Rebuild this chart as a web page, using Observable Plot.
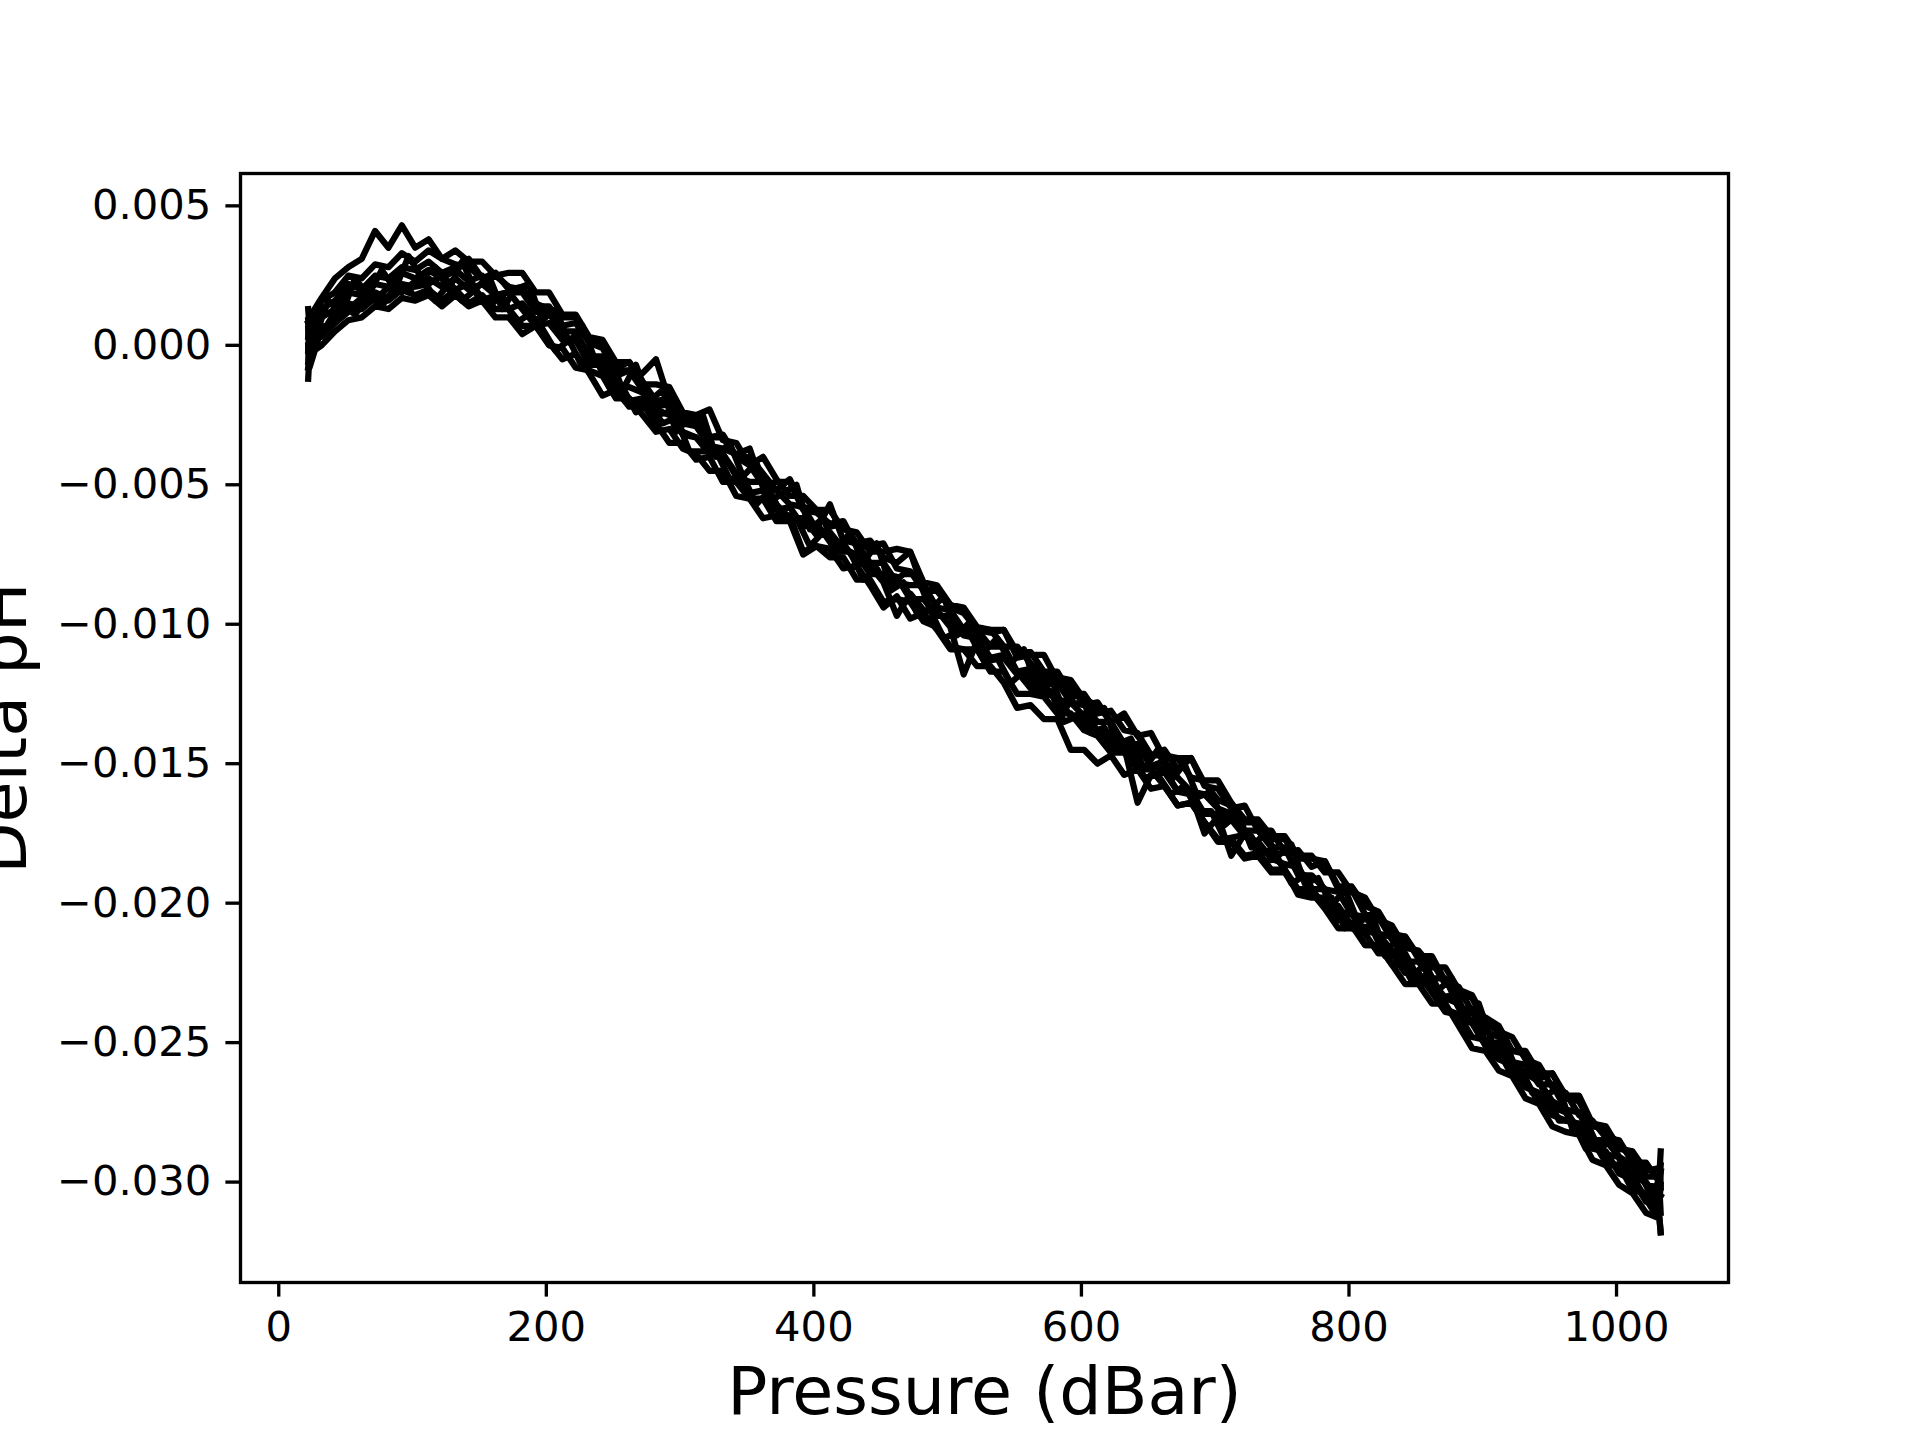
<!DOCTYPE html>
<html>
<head>
<meta charset="utf-8">
<script src="https://cdn.jsdelivr.net/npm/d3@7"></script>
<script src="https://cdn.jsdelivr.net/npm/@observablehq/plot@0.6"></script>
<style>
  html, body { margin: 0; padding: 0; background: white; overflow: hidden; }
</style>
</head>
<body>
<div id="chart"></div>
<script>
// Pressure grids (dBar)
const pressure = [22, 23, 32, 42, 52, 62, 72, 82, 92, 102, 112, 122, 132, 142, 152, 162, 172, 182, 192, 202, 212, 222, 232, 242, 252, 262, 272, 282, 292, 302, 312, 322, 332, 342, 352, 362, 372, 382, 392, 402, 412, 422, 432, 442, 452, 462, 472, 482, 492, 502, 512, 522, 532, 542, 552, 562, 572, 582, 592, 602, 612, 622, 632, 642, 652, 662, 672, 682, 692, 702, 712, 722, 732, 742, 752, 762, 772, 782, 792, 802, 812, 822, 832, 842, 852, 862, 872, 882, 892, 902, 912, 922, 932, 942, 952, 962, 972, 982, 992, 1002, 1012, 1022, 1032, 1033];
const pressureB = [22, 27, 37, 47, 57, 67, 77, 87, 97, 107, 117, 127, 137, 147, 157, 167, 177, 187, 197, 207, 217, 227, 237, 247, 257, 267, 277, 287, 297, 307, 317, 327, 337, 347, 357, 367, 377, 387, 397, 407, 417, 427, 437, 447, 457, 467, 477, 487, 497, 507, 517, 527, 537, 547, 557, 567, 577, 587, 597, 607, 617, 627, 637, 647, 657, 667, 677, 687, 697, 707, 717, 727, 737, 747, 757, 767, 777, 787, 797, 807, 817, 827, 837, 847, 857, 867, 877, 887, 897, 907, 917, 927, 937, 947, 957, 967, 977, 987, 997, 1007, 1017, 1027, 1033];

// Delta pH profiles (one per cast)
const profile1 = [0.0003, 0.0010, 0.0017, 0.0024, 0.0028, 0.0031, 0.0041, 0.0035, 0.0043, 0.0035,
0.0038, 0.0031, 0.0029, 0.0028, 0.0024, 0.0025, 0.0021, 0.0020, 0.0015, 0.0013,
0.0010, 0.0010, 0.0001, 0.0000, -0.0008, -0.0006, -0.0013, -0.0020, -0.0019, -0.0025,
-0.0026, -0.0033, -0.0032, -0.0040, -0.0043, -0.0050, -0.0049, -0.0049, -0.0059, -0.0060,
-0.0064, -0.0063, -0.0072, -0.0072, -0.0071, -0.0080, -0.0081, -0.0088, -0.0087, -0.0093,
-0.0095, -0.0102, -0.0103, -0.0102, -0.0112, -0.0111, -0.0111, -0.0120, -0.0122, -0.0129,
-0.0128, -0.0135, -0.0133, -0.0140, -0.0139, -0.0148, -0.0148, -0.0148, -0.0158, -0.0159,
-0.0166, -0.0165, -0.0174, -0.0174, -0.0182, -0.0181, -0.0187, -0.0185, -0.0195, -0.0195,
-0.0204, -0.0205, -0.0213, -0.0212, -0.0219, -0.0219, -0.0228, -0.0230, -0.0239, -0.0241,
-0.0244, -0.0253, -0.0254, -0.0263, -0.0261, -0.0270, -0.0271, -0.0280, -0.0281, -0.0287,
-0.0291, -0.0298, -0.0298, -0.0289];

const profile2 = [-0.0012, -0.0003, 0.0000, 0.0005, 0.0009, 0.0010, 0.0014, 0.0013, 0.0017, 0.0016,
0.0018, 0.0014, 0.0018, 0.0014, 0.0016, 0.0010, 0.0010, 0.0004, 0.0007, 0.0001,
-0.0005, -0.0003, -0.0010, -0.0018, -0.0016, -0.0022, -0.0021, -0.0028, -0.0035, -0.0035,
-0.0041, -0.0040, -0.0049, -0.0049, -0.0055, -0.0062, -0.0061, -0.0061, -0.0074, -0.0072,
-0.0073, -0.0080, -0.0079, -0.0086, -0.0094, -0.0090, -0.0098, -0.0096, -0.0102, -0.0109,
-0.0109, -0.0115, -0.0115, -0.0121, -0.0130, -0.0129, -0.0134, -0.0134, -0.0145, -0.0145,
-0.0150, -0.0147, -0.0154, -0.0152, -0.0159, -0.0158, -0.0165, -0.0164, -0.0171, -0.0177,
-0.0177, -0.0183, -0.0182, -0.0188, -0.0188, -0.0197, -0.0198, -0.0198, -0.0206, -0.0207,
-0.0215, -0.0215, -0.0222, -0.0222, -0.0229, -0.0229, -0.0238, -0.0240, -0.0242, -0.0251,
-0.0253, -0.0262, -0.0263, -0.0272, -0.0273, -0.0275, -0.0283, -0.0285, -0.0293, -0.0294,
-0.0303, -0.0304, -0.0312, -0.0318];

const profile3 = [0.0013, 0.0006, 0.0016, 0.0019, 0.0025, 0.0024, 0.0029, 0.0028, 0.0033, 0.0030,
0.0034, 0.0031, 0.0034, 0.0030, 0.0030, 0.0025, 0.0026, 0.0026, 0.0019, 0.0019,
0.0011, 0.0011, 0.0003, 0.0002, -0.0006, -0.0006, -0.0014, -0.0014, -0.0015, -0.0024,
-0.0025, -0.0023, -0.0034, -0.0035, -0.0043, -0.0040, -0.0048, -0.0054, -0.0054, -0.0059,
-0.0059, -0.0066, -0.0067, -0.0074, -0.0074, -0.0073, -0.0074, -0.0085, -0.0086, -0.0093,
-0.0094, -0.0101, -0.0102, -0.0102, -0.0110, -0.0110, -0.0117, -0.0117, -0.0125, -0.0125,
-0.0132, -0.0131, -0.0138, -0.0139, -0.0147, -0.0147, -0.0148, -0.0155, -0.0156, -0.0156,
-0.0164, -0.0170, -0.0170, -0.0176, -0.0176, -0.0183, -0.0183, -0.0189, -0.0189, -0.0196,
-0.0198, -0.0206, -0.0208, -0.0216, -0.0217, -0.0223, -0.0223, -0.0231, -0.0234, -0.0243,
-0.0246, -0.0248, -0.0256, -0.0258, -0.0266, -0.0268, -0.0276, -0.0278, -0.0284, -0.0285,
-0.0293, -0.0293, -0.0300, -0.0294];

const profile4 = [-0.0002, 0.0005, 0.0004, 0.0012, 0.0013, 0.0017, 0.0016, 0.0021, 0.0019, 0.0023,
0.0024, 0.0021, 0.0024, 0.0020, 0.0022, 0.0018, 0.0013, 0.0015, 0.0009, 0.0012,
0.0003, 0.0002, -0.0006, -0.0007, -0.0015, -0.0015, -0.0017, -0.0023, -0.0025, -0.0032,
-0.0033, -0.0038, -0.0039, -0.0047, -0.0049, -0.0049, -0.0057, -0.0062, -0.0062, -0.0068,
-0.0067, -0.0073, -0.0075, -0.0082, -0.0082, -0.0083, -0.0091, -0.0091, -0.0097, -0.0097,
-0.0104, -0.0105, -0.0112, -0.0111, -0.0117, -0.0123, -0.0122, -0.0127, -0.0128, -0.0133,
-0.0139, -0.0139, -0.0145, -0.0151, -0.0151, -0.0152, -0.0160, -0.0160, -0.0168, -0.0168,
-0.0170, -0.0176, -0.0178, -0.0184, -0.0186, -0.0187, -0.0195, -0.0195, -0.0203, -0.0204,
-0.0210, -0.0211, -0.0217, -0.0218, -0.0227, -0.0228, -0.0234, -0.0236, -0.0243, -0.0251,
-0.0251, -0.0259, -0.0261, -0.0264, -0.0271, -0.0274, -0.0282, -0.0284, -0.0290, -0.0291,
-0.0298, -0.0300, -0.0307, -0.0297];

const profile5 = [0.0006, -0.0004, 0.0010, 0.0013, 0.0019, 0.0018, 0.0022, 0.0021, 0.0026, 0.0024,
0.0027, 0.0024, 0.0027, 0.0023, 0.0025, 0.0018, 0.0019, 0.0019, 0.0012, 0.0012,
0.0005, 0.0005, -0.0004, -0.0004, -0.0011, -0.0009, -0.0016, -0.0022, -0.0021, -0.0028,
-0.0029, -0.0036, -0.0037, -0.0039, -0.0037, -0.0051, -0.0052, -0.0057, -0.0058, -0.0066,
-0.0057, -0.0070, -0.0071, -0.0078, -0.0078, -0.0085, -0.0086, -0.0086, -0.0094, -0.0095,
-0.0102, -0.0102, -0.0108, -0.0108, -0.0117, -0.0116, -0.0122, -0.0121, -0.0128, -0.0129,
-0.0135, -0.0135, -0.0143, -0.0143, -0.0151, -0.0149, -0.0155, -0.0160, -0.0161, -0.0166,
-0.0168, -0.0174, -0.0174, -0.0180, -0.0180, -0.0190, -0.0190, -0.0195, -0.0196, -0.0204,
-0.0205, -0.0211, -0.0212, -0.0221, -0.0221, -0.0227, -0.0227, -0.0237, -0.0239, -0.0246,
-0.0248, -0.0257, -0.0258, -0.0265, -0.0265, -0.0274, -0.0275, -0.0285, -0.0285, -0.0291,
-0.0294, -0.0301, -0.0302, -0.0311];

const profile6 = [-0.0006, 0.0004, 0.0003, 0.0008, 0.0012, 0.0013, 0.0017, 0.0016, 0.0020, 0.0018,
0.0020, 0.0016, 0.0020, 0.0015, 0.0018, 0.0013, 0.0013, 0.0007, 0.0007, 0.0000,
-0.0001, -0.0008, -0.0009, -0.0011, -0.0019, -0.0019, -0.0025, -0.0031, -0.0030, -0.0037,
-0.0039, -0.0045, -0.0045, -0.0054, -0.0055, -0.0055, -0.0063, -0.0063, -0.0075, -0.0072,
-0.0076, -0.0076, -0.0084, -0.0084, -0.0092, -0.0091, -0.0092, -0.0099, -0.0101, -0.0108,
-0.0109, -0.0109, -0.0117, -0.0117, -0.0125, -0.0125, -0.0126, -0.0132, -0.0132, -0.0138,
-0.0140, -0.0146, -0.0146, -0.0152, -0.0152, -0.0158, -0.0165, -0.0164, -0.0171, -0.0178,
-0.0178, -0.0184, -0.0183, -0.0189, -0.0189, -0.0196, -0.0196, -0.0202, -0.0209, -0.0209,
-0.0211, -0.0218, -0.0218, -0.0225, -0.0225, -0.0232, -0.0239, -0.0240, -0.0248, -0.0249,
-0.0256, -0.0258, -0.0266, -0.0268, -0.0276, -0.0278, -0.0279, -0.0288, -0.0289, -0.0297,
-0.0299, -0.0307, -0.0308, -0.0301];

const profile7 = [0.0009, 0.0001, 0.0013, 0.0016, 0.0022, 0.0020, 0.0025, 0.0024, 0.0028, 0.0027,
0.0030, 0.0026, 0.0028, 0.0031, 0.0024, 0.0026, 0.0020, 0.0021, 0.0014, 0.0014,
0.0007, 0.0008, 0.0001, -0.0001, -0.0009, -0.0009, -0.0010, -0.0005, -0.0020, -0.0026,
-0.0027, -0.0033, -0.0033, -0.0040, -0.0040, -0.0046, -0.0052, -0.0048, -0.0058, -0.0059,
-0.0065, -0.0064, -0.0071, -0.0070, -0.0076, -0.0078, -0.0074, -0.0088, -0.0088, -0.0094,
-0.0096, -0.0102, -0.0102, -0.0108, -0.0108, -0.0114, -0.0119, -0.0119, -0.0120, -0.0127,
-0.0129, -0.0135, -0.0132, -0.0140, -0.0147, -0.0145, -0.0152, -0.0148, -0.0157, -0.0163,
-0.0165, -0.0171, -0.0171, -0.0177, -0.0177, -0.0184, -0.0184, -0.0185, -0.0194, -0.0194,
-0.0201, -0.0203, -0.0211, -0.0212, -0.0220, -0.0221, -0.0229, -0.0231, -0.0233, -0.0242,
-0.0245, -0.0253, -0.0253, -0.0261, -0.0261, -0.0269, -0.0269, -0.0279, -0.0280, -0.0288,
-0.0289, -0.0296, -0.0295, -0.0302];

const profile8 = [0.0000, -0.0008, 0.0006, 0.0009, 0.0015, 0.0014, 0.0019, 0.0017, 0.0022, 0.0021,
0.0022, 0.0025, 0.0020, 0.0022, 0.0016, 0.0018, 0.0019, 0.0013, 0.0007, 0.0008,
0.0002, 0.0002, -0.0007, -0.0007, -0.0014, -0.0020, -0.0019, -0.0025, -0.0024, -0.0031,
-0.0033, -0.0039, -0.0039, -0.0046, -0.0053, -0.0052, -0.0059, -0.0058, -0.0065, -0.0064,
-0.0070, -0.0071, -0.0078, -0.0079, -0.0085, -0.0097, -0.0089, -0.0095, -0.0095, -0.0101,
-0.0118, -0.0106, -0.0113, -0.0112, -0.0118, -0.0118, -0.0125, -0.0126, -0.0133, -0.0132,
-0.0138, -0.0144, -0.0144, -0.0164, -0.0154, -0.0153, -0.0160, -0.0161, -0.0175, -0.0169,
-0.0183, -0.0175, -0.0182, -0.0181, -0.0188, -0.0195, -0.0195, -0.0201, -0.0201, -0.0208,
-0.0215, -0.0215, -0.0222, -0.0229, -0.0229, -0.0236, -0.0236, -0.0244, -0.0252, -0.0253,
-0.0260, -0.0262, -0.0270, -0.0272, -0.0280, -0.0282, -0.0283, -0.0292, -0.0294, -0.0301,
-0.0304, -0.0311, -0.0313, -0.0318];

// Profiles sampled on the staggered grid (pressureB)
const profile9 = [0.0008,
0.0003, 0.0016, 0.0011, 0.0024, 0.0018, 0.0027, 0.0020, 0.0032, 0.0024, 0.0028,
0.0020, 0.0030, 0.0020, 0.0025, 0.0013, 0.0020, 0.0022, 0.0009, 0.0013, 0.0001,
0.0007, -0.0006, -0.0003, -0.0016, -0.0007, -0.0020, -0.0016, -0.0031, -0.0026, -0.0025,
-0.0040, -0.0035, -0.0047, -0.0042, -0.0056, -0.0053, -0.0050, -0.0066, -0.0062, -0.0074,
-0.0067, -0.0078, -0.0071, -0.0086, -0.0082, -0.0082, -0.0095, -0.0090, -0.0104, -0.0099,
-0.0110, -0.0105, -0.0114, -0.0109, -0.0123, -0.0119, -0.0131, -0.0124, -0.0133, -0.0130,
-0.0143, -0.0141, -0.0152, -0.0145, -0.0156, -0.0150, -0.0162, -0.0160, -0.0172, -0.0168,
-0.0180, -0.0175, -0.0183, -0.0179, -0.0193, -0.0191, -0.0201, -0.0195, -0.0207, -0.0204,
-0.0217, -0.0213, -0.0226, -0.0222, -0.0231, -0.0227, -0.0241, -0.0236, -0.0250, -0.0250,
-0.0262, -0.0258, -0.0269, -0.0266, -0.0281, -0.0278, -0.0288, -0.0285, -0.0298, -0.0295, -0.0307,
-0.0296];

const profile10 = [-0.0008,
0.0008, 0.0006, 0.0015, 0.0011, 0.0018, 0.0014, 0.0021, 0.0019, 0.0025, 0.0016,
0.0022, 0.0016, 0.0020, 0.0014, 0.0018, 0.0008, 0.0011, 0.0006, -0.0002, 0.0002,
-0.0008, -0.0005, -0.0015, -0.0015, -0.0024, -0.0021, -0.0028, -0.0026, -0.0038, -0.0038,
-0.0038, -0.0048, -0.0047, -0.0057, -0.0052, -0.0062, -0.0062, -0.0072, -0.0067, -0.0074,
-0.0074, -0.0084, -0.0080, -0.0088, -0.0085, -0.0096, -0.0095, -0.0105, -0.0103, -0.0104,
-0.0113, -0.0112, -0.0121, -0.0117, -0.0125, -0.0124, -0.0135, -0.0133, -0.0139, -0.0137,
-0.0145, -0.0145, -0.0155, -0.0154, -0.0161, -0.0158, -0.0167, -0.0167, -0.0177, -0.0176,
-0.0176, -0.0185, -0.0184, -0.0193, -0.0190, -0.0199, -0.0198, -0.0209, -0.0208, -0.0209,
-0.0219, -0.0219, -0.0228, -0.0226, -0.0234, -0.0233, -0.0242, -0.0244, -0.0255, -0.0256,
-0.0258, -0.0268, -0.0268, -0.0278, -0.0278, -0.0288, -0.0286, -0.0294, -0.0294, -0.0302, -0.0310,
-0.0305];

const casts = [
  {p: pressure, d: profile1}, {p: pressure, d: profile2}, {p: pressure, d: profile3},
  {p: pressure, d: profile4}, {p: pressure, d: profile5}, {p: pressure, d: profile6},
  {p: pressure, d: profile7}, {p: pressure, d: profile8},
  {p: pressureB, d: profile9}, {p: pressureB, d: profile10}
];

const xTicks = [0, 200, 400, 600, 800, 1000];
const yTicks = [0.005, 0, -0.005, -0.010, -0.015, -0.020, -0.025, -0.030];
const xLabel = "Pressure (dBar)";
const yLabel = "Delta pH";

const rows = [];
casts.forEach((c, k) => {
  const n = Math.min(c.p.length, c.d.length);
  for (let i = 0; i < n; i++) rows.push({profile: k, p: c.p[i], d: c.d[i]});
});

const chart = Plot.plot({
  width: 1920,
  height: 1440,
  marginLeft: 240,
  marginRight: 192,
  marginTop: 173,
  marginBottom: 158,
  x: {domain: [-28.6, 1083.7]},
  y: {domain: [-0.0336, 0.00616]},
  style: {fontFamily: "DejaVu Sans", background: "white", color: "black"},
  marks: [
    Plot.line(rows, {x: "p", y: "d", z: "profile", stroke: "black", strokeWidth: 6.25, strokeLinejoin: "round", strokeLinecap: "square"}),
    Plot.frame({stroke: "black", strokeWidth: 3.33}),
    Plot.axisX({ticks: xTicks, tickSize: 14.6, tickPadding: 14.6, fontSize: 41.7, strokeWidth: 3.33, tickFormat: d => String(d), label: null}),
    Plot.axisY({ticks: yTicks, tickSize: 14.6, tickPadding: 14.6, fontSize: 41.7, strokeWidth: 3.33, tickFormat: d => d.toFixed(3).replace("-", "\u2212"), label: null}),
    Plot.text([xLabel], {text: d => d, frameAnchor: "bottom", textAnchor: "middle", dy: 131, fontSize: 66.7, fill: "black"}),
    Plot.text([yLabel], {text: d => d, frameAnchor: "left", textAnchor: "middle", rotate: -90, dx: -236.3, fontSize: 66.7, fill: "black"})
  ]
});
document.getElementById("chart").appendChild(chart);
</script>
</body>
</html>
